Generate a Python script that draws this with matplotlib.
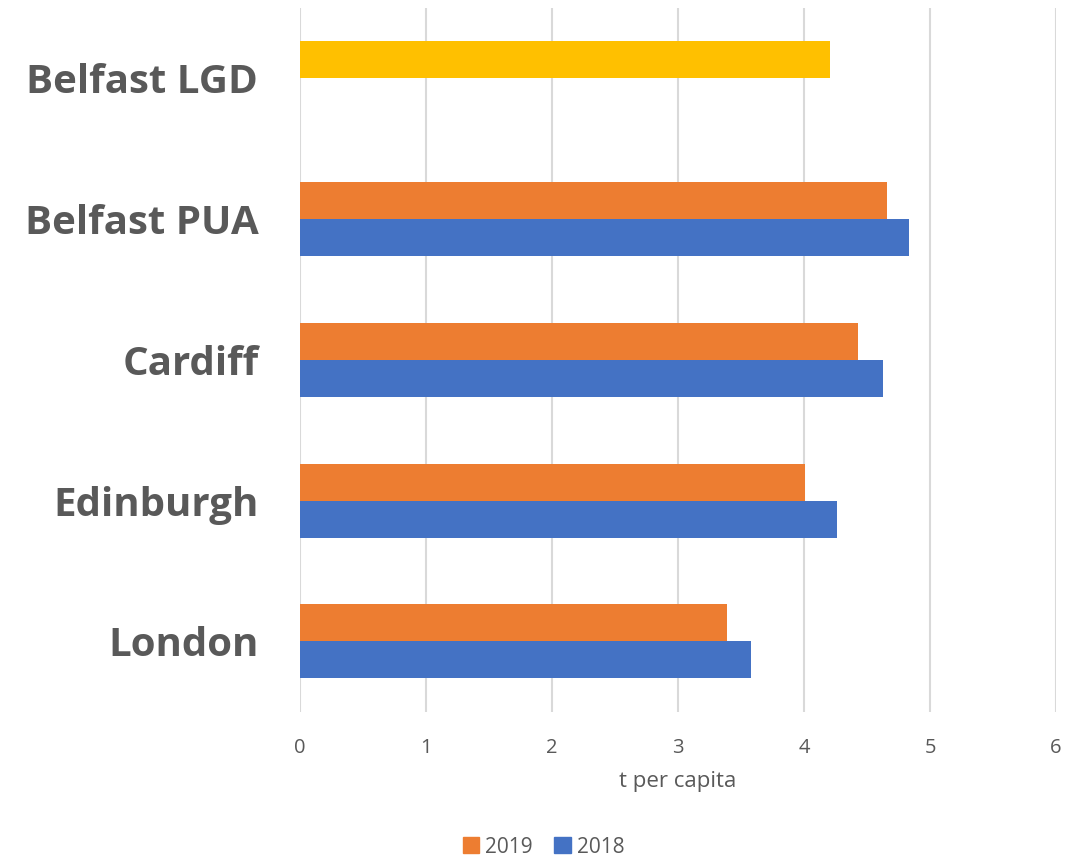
import numpy as np
import matplotlib
matplotlib.use("Agg")
import matplotlib.pyplot as plt
from matplotlib.patches import Patch

# données (t de CO2 par habitant)
cities = ["London", "Edinburgh", "Cardiff", "Belfast PUA", "Belfast LGD"]
values_2019 = [3.39, 4.01, 4.43, 4.66, 4.21]
values_2018 = [3.58, 4.26, 4.63, 4.83, np.nan]

ORANGE = "#ED7D31"
BLUE = "#4472C4"
YELLOW = "#FFC000"
GREY = "#595959"

plt.rcParams["font.family"] = ["Open Sans", "DejaVu Sans"]

fig = plt.figure(figsize=(10.87, 8.66), dpi=100)
ax = fig.add_axes([0.276, 0.178, 0.6955, 0.813])

y = np.arange(len(cities))
h = 0.263
colors_2019 = [ORANGE] * (len(cities) - 1) + [YELLOW]
ax.barh(y + h / 2, values_2019, height=h, color=colors_2019, zorder=3)
ax.barh(y - h / 2, values_2018, height=h, color=BLUE, zorder=3)

ax.set_xlim(0, 6)
ax.set_ylim(-0.5, len(cities) - 0.5)
ax.set_xticks(range(0, 7))
ax.grid(axis="x", color="#D9D9D9", linewidth=1.5, zorder=0)
for s in ax.spines.values():
    s.set_visible(False)
ax.tick_params(axis="both", length=0)
ax.tick_params(axis="x", labelsize=14.5, labelcolor=GREY, pad=19)
ax.set_yticks(y)
ax.set_yticklabels(cities, fontsize=29, fontweight="bold", color=GREY)
ax.tick_params(axis="y", pad=30)
ax.set_xlabel("t per capita", fontsize=16, color=GREY, labelpad=9)

handles = [Patch(color=ORANGE, label="2019"), Patch(color=BLUE, label="2018")]
fig.legend(handles=handles, loc="lower center", ncol=2, frameon=False,
           bbox_to_anchor=(0.5, -0.012), fontsize=15, labelcolor=GREY,
           handlelength=0.8, handleheight=0.8, handletextpad=0.3, columnspacing=1.0)

fig.savefig("out.png", dpi=100)
plt.close(fig)
